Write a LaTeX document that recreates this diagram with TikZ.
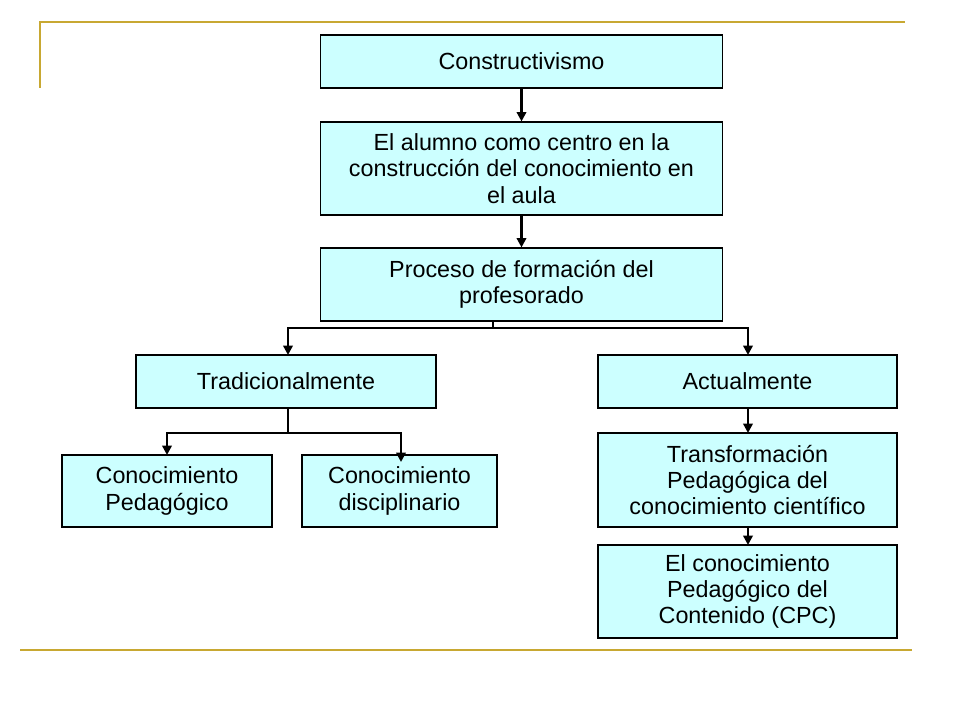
\documentclass[tikz,border=0pt]{standalone}
\usepackage{fontspec}
\setmainfont{Liberation Sans}
\usetikzlibrary{arrows.meta}
\definecolor{boxfill}{HTML}{CCFFFF}
\definecolor{gold}{HTML}{C8A832}
\begin{document}
\begin{tikzpicture}[x=0.75pt,y=-0.75pt,
  bx/.style={draw=black,fill=boxfill,line width=0.8pt,align=center,inner sep=0pt,font=\fontsize{17.5}{19.8}\selectfont},
  con/.style={line width=1.9pt,-{Triangle[length=7pt,width=7pt]}},
  ln/.style={line width=1.9pt}]
\useasboundingbox (0,0) rectangle (960,720);
\draw[gold,line width=1.5pt] (40,88) -- (40,22) -- (905,22);
\draw[gold,line width=1.5pt] (20,650) -- (912,650);
\node[bx,minimum width=301pt,minimum height=39.75pt] (c) at (521.5,61.5) {Constructivismo};
\node[bx,minimum width=301pt,minimum height=69.75pt] (a) at (521.5,168.5) {El alumno como centro en la\\construcción del conocimiento en\\el aula};
\node[bx,minimum width=301pt,minimum height=54.75pt] (p) at (521.5,284.5) {Proceso de formación del\\profesorado};
\node[bx,minimum width=225pt,minimum height=39.75pt] (t) at (286,381.5) {Tradicionalmente};
\node[bx,minimum width=224.25pt,minimum height=39.75pt] (ac) at (747.5,381.5) {Actualmente};
\node[bx,minimum width=157.5pt,minimum height=54pt] (cp) at (167,491) {Conocimiento\\Pedagógico};
\node[bx,minimum width=146.25pt,minimum height=54pt] (cd) at (399.5,491) {Conocimiento\\disciplinario};
\node[bx,minimum width=224.25pt,minimum height=70.5pt] (tr) at (747.5,480) {Transformación\\Pedagógica del\\conocimiento científico};
\node[bx,minimum width=224.25pt,minimum height=69.75pt] (cpc) at (747.5,591.5) {El conocimiento\\Pedagógico del\\Contenido (CPC)};
\draw[con] (c) -- (a);
\draw[con] (a) -- (p);
\coordinate (pj) at (493,328);
\draw[ln] (p.south -| pj) -- (pj);
\draw[con] (pj) -| (288,355);
\draw[con] (pj) -| (748,355);
\coordinate (tj) at (288,433);
\draw[ln] (t.south -| tj) -- (tj);
\draw[con] (tj) -| (167,455);
\draw[con] (tj) -| (401,462);
\draw[con] (ac.south -| 748,0) -- (748,433);
\draw[con] (tr.south -| 748,0) -- (748,545);
\end{tikzpicture}
\end{document}
